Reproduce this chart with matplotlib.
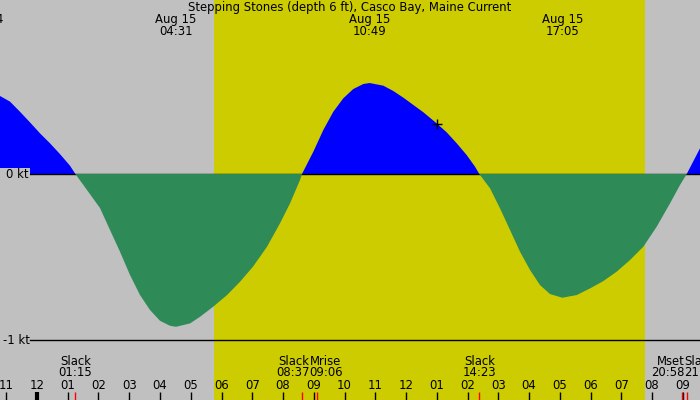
import matplotlib
matplotlib.use("Agg")
import matplotlib.pyplot as plt
import numpy as np

# current speed (kt), hours since midnight Aug 15
hours = [-1.203, -0.878, -0.553, -0.228, 0.098, 0.423, 0.748, 1.073, 1.25,
         2.049, 2.374, 2.699, 3.024, 3.350, 3.675, 4.000, 4.325, 4.52, 4.976,
         5.301, 5.724, 6.179, 6.602, 7.024, 7.480, 7.902, 8.228, 8.553, 8.617,
         8.985, 9.311, 9.636, 9.961, 10.286, 10.611, 10.817, 11.262, 11.587, 11.912,
         12.237, 12.563, 12.998, 13.323, 13.649, 13.974, 14.244, 14.383,
         14.732, 15.057, 15.382, 15.707, 16.033, 16.358, 16.683, 17.083, 17.551,
         17.984, 18.416, 18.852, 19.285, 19.717, 20.153, 20.585, 20.911, 21.128,
         21.561]
speed = [0.470, 0.436, 0.375, 0.311, 0.245, 0.185, 0.120, 0.050, 0.0,
         -0.205, -0.337, -0.468, -0.608, -0.729, -0.819, -0.884, -0.914, -0.920, -0.900,
         -0.860, -0.800, -0.729, -0.649, -0.558, -0.438, -0.297, -0.177, -0.036, 0.0,
         0.134, 0.265, 0.375, 0.456, 0.512, 0.542, 0.548, 0.532, 0.500, 0.460,
         0.416, 0.372, 0.305, 0.251, 0.185, 0.114, 0.044, 0.0,
         -0.086, -0.207, -0.337, -0.468, -0.578, -0.669, -0.723, -0.745, -0.729,
         -0.689, -0.645, -0.588, -0.518, -0.438, -0.317, -0.177, -0.066, 0.0,
         0.155]

# max / min current labels along the top
ext_hours = [-1.78, 4.52, 10.82, 17.08]
ext_dates = ["Aug 14", "Aug 15", "Aug 15", "Aug 15"]
ext_times = ["22:14", "04:31", "10:49", "17:05"]

# events along the bottom
ev_hours = [1.25, 8.617, 9.10, 14.383, 20.967, 21.128]
ev_names = ["Slack", "Slack", "Mrise", "Slack", "Mset", "Slack"]
ev_times = ["01:15", "08:37", "09:06", "14:23", "20:58", "21:08"]

sunrise, sunset = 5.76, 19.77
hour_ticks = list(range(-1, 22))
hour_labels = ["%02d" % ((h - 1) % 12 + 1) for h in hour_ticks]

title = "Stepping Stones (depth 6 ft), Casco Bay, Maine Current"

x0, x1 = -1.203, 21.56
y0, y1 = -1.361, 1.048
grey = "#c0c0c0"

fig = plt.figure(figsize=(7, 4), dpi=100)
ax = fig.add_axes([0, 0, 1, 1])
ax.set_xlim(x0, x1)
ax.set_ylim(y0, y1)
ax.axis("off")
fig.patch.set_facecolor(grey)
ax.axvspan(sunrise, sunset, color="#cccc00", lw=0, zorder=0)

fs = 8.4
px = (y1 - y0) / 400  # data units per pixel vertically
def ypix(p):
    return y1 - p * px

t = np.array(hours)
s = np.array(speed)
ax.fill_between(t, 0, s, where=s >= 0, interpolate=True, color="#0000ff", lw=0, zorder=2)
ax.axhline(0, xmin=30 / 700, color="black", lw=1, zorder=3)
ax.fill_between(t, 0, s, where=s <= 0, interpolate=True, color="#2e8b57", lw=0, zorder=4)
ax.axhline(-1, xmin=30 / 700, color="black", lw=1, zorder=3)
# grey patch behind the "0 kt" label
ax.axhspan(ypix(180), ypix(168), xmin=0, xmax=30 / 700, color=grey, lw=0, zorder=6)

ax.plot([13.0], [0.30], marker="+", color="black", ms=7, mew=1, zorder=6)

tr = ax.get_yaxis_transform()
ax.text(0.5, ypix(7), title, transform=tr, ha="center", va="center", fontsize=fs, zorder=7)
ax.text(6 / 700, 0, "0 kt", transform=tr, ha="left", va="center", fontsize=fs, zorder=7)
ax.text(3 / 700, -1, "-1 kt", transform=tr, ha="left", va="center", fontsize=fs, zorder=7)

for h, d, tm in zip(ext_hours, ext_dates, ext_times):
    ax.text(h, ypix(19.5), d, ha="center", va="center", fontsize=fs, zorder=7)
    ax.text(h, ypix(31.5), tm, ha="center", va="center", fontsize=fs, zorder=7)

# events: close pairs are pushed apart around their midpoint
i = 0
while i < len(ev_hours):
    if i + 1 < len(ev_hours) and ev_hours[i + 1] - ev_hours[i] < 1.0:
        mid = (ev_hours[i] + ev_hours[i + 1]) / 2
        for j, ha in ((i, "right"), (i + 1, "left")):
            ax.text(mid, ypix(361.5), ev_names[j], ha=ha, va="center", fontsize=fs)
            ax.text(mid, ypix(373), ev_times[j], ha=ha, va="center", fontsize=fs)
        i += 2
    else:
        ax.text(ev_hours[i], ypix(361.5), ev_names[i], ha="center", va="center", fontsize=fs)
        ax.text(ev_hours[i], ypix(373), ev_times[i], ha="center", va="center", fontsize=fs)
        i += 1

for h, lab in zip(hour_ticks, hour_labels):
    ax.text(h, ypix(385.5), lab, ha="center", va="center", fontsize=fs)
    ax.plot([h, h], [ypix(392), ypix(400)], color="black", lw=3 if h == 0 else 1,
            solid_capstyle="butt", zorder=5)
for h in ev_hours:
    ax.plot([h, h], [ypix(392), ypix(400)], color="red", lw=1, solid_capstyle="butt", zorder=5)

fig.savefig("out.png", dpi=100, facecolor=fig.get_facecolor())
